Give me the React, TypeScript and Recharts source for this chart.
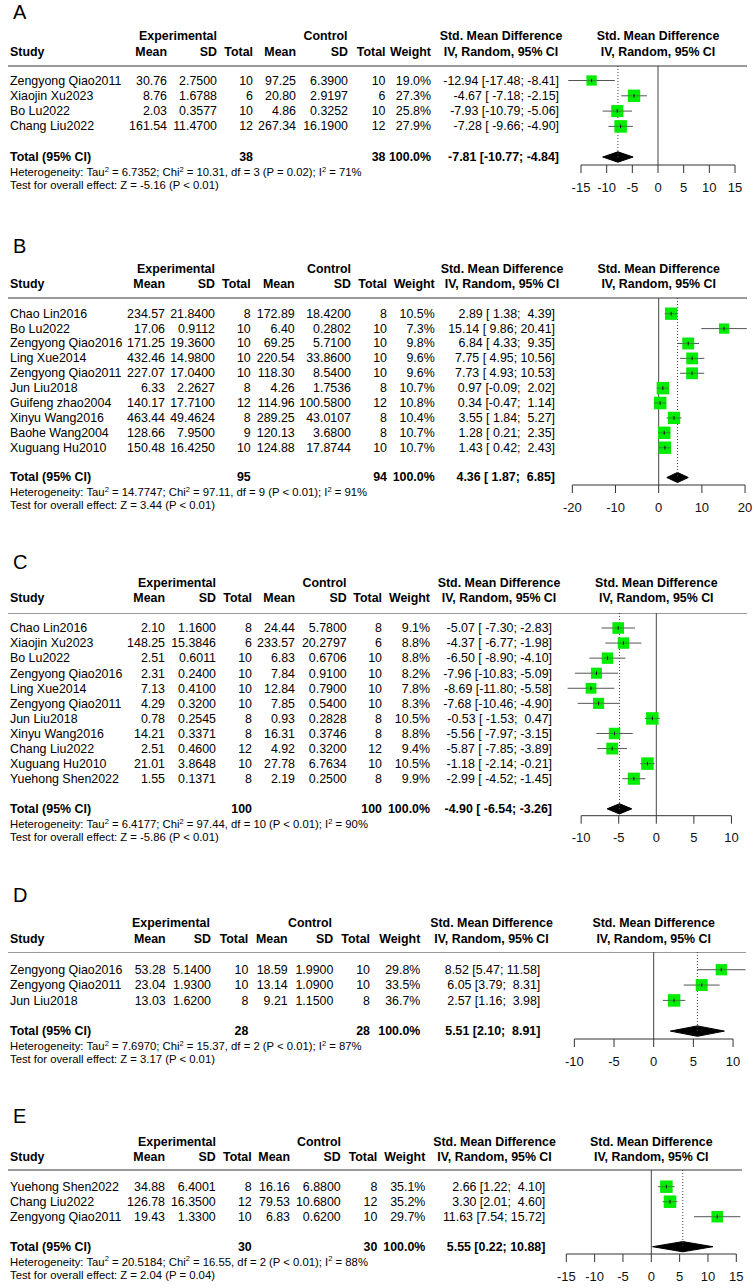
import React from 'react';
import {
  ComposedChart,
  Scatter,
  ErrorBar,
  Area,
  XAxis,
  YAxis,
  ReferenceLine,
} from 'recharts';

// one row per study: means/SDs/Ns for both arms, weight (%), SMD and its 95% CI
interface Row {
  study: string;
  me: number;
  sde: number;
  ne: number;
  mc: number;
  sdc: number;
  nc: number;
  w: number;
  smd: number;
  lo: number;
  hi: number;
}

interface Pooled {
  ne: number;
  nc: number;
  smd: number;
  lo: number;
  hi: number;
}

interface Het {
  tau2: string;
  chi2: string;
  df: number;
  p: string;
  i2: number;
  z: string;
  pz: string;
}

const rowsA: Row[] = [
  { study: 'Zengyong Qiao2011', me: 30.76, sde: 2.75, ne: 10, mc: 97.25, sdc: 6.39, nc: 10, w: 19.0, smd: -12.94, lo: -17.48, hi: -8.41 },
  { study: 'Xiaojin Xu2023', me: 8.76, sde: 1.6788, ne: 6, mc: 20.8, sdc: 2.9197, nc: 6, w: 27.3, smd: -4.67, lo: -7.18, hi: -2.15 },
  { study: 'Bo Lu2022', me: 2.03, sde: 0.3577, ne: 10, mc: 4.86, sdc: 0.3252, nc: 10, w: 25.8, smd: -7.93, lo: -10.79, hi: -5.06 },
  { study: 'Chang Liu2022', me: 161.54, sde: 11.47, ne: 12, mc: 267.34, sdc: 16.19, nc: 12, w: 27.9, smd: -7.28, lo: -9.66, hi: -4.9 },
];
const pooledA: Pooled = { ne: 38, nc: 38, smd: -7.81, lo: -10.77, hi: -4.84 };
const hetA: Het = { tau2: '6.7352', chi2: '10.31', df: 3, p: 'P = 0.02', i2: 71, z: '-5.16', pz: 'P < 0.01' };

const rowsB: Row[] = [
  { study: 'Chao Lin2016', me: 234.57, sde: 21.84, ne: 8, mc: 172.89, sdc: 18.42, nc: 8, w: 10.5, smd: 2.89, lo: 1.38, hi: 4.39 },
  { study: 'Bo Lu2022', me: 17.06, sde: 0.9112, ne: 10, mc: 6.4, sdc: 0.2802, nc: 10, w: 7.3, smd: 15.14, lo: 9.86, hi: 20.41 },
  { study: 'Zengyong Qiao2016', me: 171.25, sde: 19.36, ne: 10, mc: 69.25, sdc: 5.71, nc: 10, w: 9.8, smd: 6.84, lo: 4.33, hi: 9.35 },
  { study: 'Ling Xue2014', me: 432.46, sde: 14.98, ne: 10, mc: 220.54, sdc: 33.86, nc: 10, w: 9.6, smd: 7.75, lo: 4.95, hi: 10.56 },
  { study: 'Zengyong Qiao2011', me: 227.07, sde: 17.04, ne: 10, mc: 118.3, sdc: 8.54, nc: 10, w: 9.6, smd: 7.73, lo: 4.93, hi: 10.53 },
  { study: 'Jun Liu2018', me: 6.33, sde: 2.2627, ne: 8, mc: 4.26, sdc: 1.7536, nc: 8, w: 10.7, smd: 0.97, lo: -0.09, hi: 2.02 },
  { study: 'Guifeng zhao2004', me: 140.17, sde: 17.71, ne: 12, mc: 114.96, sdc: 100.58, nc: 12, w: 10.8, smd: 0.34, lo: -0.47, hi: 1.14 },
  { study: 'Xinyu Wang2016', me: 463.44, sde: 49.4624, ne: 8, mc: 289.25, sdc: 43.0107, nc: 8, w: 10.4, smd: 3.55, lo: 1.84, hi: 5.27 },
  { study: 'Baohe Wang2004', me: 128.66, sde: 7.95, ne: 9, mc: 120.13, sdc: 3.68, nc: 8, w: 10.7, smd: 1.28, lo: 0.21, hi: 2.35 },
  { study: 'Xuguang Hu2010', me: 150.48, sde: 16.425, ne: 10, mc: 124.88, sdc: 17.8744, nc: 10, w: 10.7, smd: 1.43, lo: 0.42, hi: 2.43 },
];
const pooledB: Pooled = { ne: 95, nc: 94, smd: 4.36, lo: 1.87, hi: 6.85 };
const hetB: Het = { tau2: '14.7747', chi2: '97.11', df: 9, p: 'P < 0.01', i2: 91, z: '3.44', pz: 'P < 0.01' };

const rowsC: Row[] = [
  { study: 'Chao Lin2016', me: 2.1, sde: 1.16, ne: 8, mc: 24.44, sdc: 5.78, nc: 8, w: 9.1, smd: -5.07, lo: -7.3, hi: -2.83 },
  { study: 'Xiaojin Xu2023', me: 148.25, sde: 15.3846, ne: 6, mc: 233.57, sdc: 20.2797, nc: 6, w: 8.8, smd: -4.37, lo: -6.77, hi: -1.98 },
  { study: 'Bo Lu2022', me: 2.51, sde: 0.6011, ne: 10, mc: 6.83, sdc: 0.6706, nc: 10, w: 8.8, smd: -6.5, lo: -8.9, hi: -4.1 },
  { study: 'Zengyong Qiao2016', me: 2.31, sde: 0.24, ne: 10, mc: 7.84, sdc: 0.91, nc: 10, w: 8.2, smd: -7.96, lo: -10.83, hi: -5.09 },
  { study: 'Ling Xue2014', me: 7.13, sde: 0.41, ne: 10, mc: 12.84, sdc: 0.79, nc: 10, w: 7.8, smd: -8.69, lo: -11.8, hi: -5.58 },
  { study: 'Zengyong Qiao2011', me: 4.29, sde: 0.32, ne: 10, mc: 7.85, sdc: 0.54, nc: 10, w: 8.3, smd: -7.68, lo: -10.46, hi: -4.9 },
  { study: 'Jun Liu2018', me: 0.78, sde: 0.2545, ne: 8, mc: 0.93, sdc: 0.2828, nc: 8, w: 10.5, smd: -0.53, lo: -1.53, hi: 0.47 },
  { study: 'Xinyu Wang2016', me: 14.21, sde: 0.3371, ne: 8, mc: 16.31, sdc: 0.3746, nc: 8, w: 8.8, smd: -5.56, lo: -7.97, hi: -3.15 },
  { study: 'Chang Liu2022', me: 2.51, sde: 0.46, ne: 12, mc: 4.92, sdc: 0.32, nc: 12, w: 9.4, smd: -5.87, lo: -7.85, hi: -3.89 },
  { study: 'Xuguang Hu2010', me: 21.01, sde: 3.8648, ne: 10, mc: 27.78, sdc: 6.7634, nc: 10, w: 10.5, smd: -1.18, lo: -2.14, hi: -0.21 },
  { study: 'Yuehong Shen2022', me: 1.55, sde: 0.1371, ne: 8, mc: 2.19, sdc: 0.25, nc: 8, w: 9.9, smd: -2.99, lo: -4.52, hi: -1.45 },
];
const pooledC: Pooled = { ne: 100, nc: 100, smd: -4.9, lo: -6.54, hi: -3.26 };
const hetC: Het = { tau2: '6.4177', chi2: '97.44', df: 10, p: 'P < 0.01', i2: 90, z: '-5.86', pz: 'P < 0.01' };

const rowsD: Row[] = [
  { study: 'Zengyong Qiao2016', me: 53.28, sde: 5.14, ne: 10, mc: 18.59, sdc: 1.99, nc: 10, w: 29.8, smd: 8.52, lo: 5.47, hi: 11.58 },
  { study: 'Zengyong Qiao2011', me: 23.04, sde: 1.93, ne: 10, mc: 13.14, sdc: 1.09, nc: 10, w: 33.5, smd: 6.05, lo: 3.79, hi: 8.31 },
  { study: 'Jun Liu2018', me: 13.03, sde: 1.62, ne: 8, mc: 9.21, sdc: 1.15, nc: 8, w: 36.7, smd: 2.57, lo: 1.16, hi: 3.98 },
];
const pooledD: Pooled = { ne: 28, nc: 28, smd: 5.51, lo: 2.1, hi: 8.91 };
const hetD: Het = { tau2: '7.6970', chi2: '15.37', df: 2, p: 'P < 0.01', i2: 87, z: '3.17', pz: 'P < 0.01' };

const rowsE: Row[] = [
  { study: 'Yuehong Shen2022', me: 34.88, sde: 6.4001, ne: 8, mc: 16.16, sdc: 6.88, nc: 8, w: 35.1, smd: 2.66, lo: 1.22, hi: 4.1 },
  { study: 'Chang Liu2022', me: 126.78, sde: 16.35, ne: 12, mc: 79.53, sdc: 10.68, nc: 12, w: 35.2, smd: 3.3, lo: 2.01, hi: 4.6 },
  { study: 'Zengyong Qiao2011', me: 19.43, sde: 1.33, ne: 10, mc: 6.83, sdc: 0.62, nc: 10, w: 29.7, smd: 11.63, lo: 7.54, hi: 15.72 },
];
const pooledE: Pooled = { ne: 30, nc: 30, smd: 5.55, lo: 0.22, hi: 10.88 };
const hetE: Het = { tau2: '20.5184', chi2: '16.55', df: 2, p: 'P < 0.01', i2: 88, z: '2.04', pz: 'P = 0.04' };

const ticksA = [-15, -10, -5, 0, 5, 10, 15];
const ticksB = [-20, -10, 0, 10, 20];
const ticksC = [-10, -5, 0, 5, 10];
const ticksD = [-10, -5, 0, 5, 10];
const ticksE = [-15, -10, -5, 0, 5, 10, 15];

interface Layout {
  letter: string;
  letterY: number;
  h1: number;
  h2: number;
  rule: number;
  ruleEnd: number;
  row0: number;
  step: number;
  axisY: number;
  cols: number[]; // right edges: exp mean, sd, total, ctl mean, sd, total, weight, CI
  expC: number;
  ctlC: number;
  smdC: number;
  zero: number;
  ppu: number;
}

const PAGE_W = 754;
const PAGE_H = 1288;
const FONT = '"Liberation Sans", Arial, sans-serif';
const GREEN = '#00ec00';

const layA: Layout = {
  letter: 'A', letterY: 12, h1: 36, h2: 52, rule: 66, ruleEnd: 747, row0: 80.5, step: 15.3, axisY: 165,
  cols: [167, 217, 253, 296, 348, 385.5, 431, 559], expC: 178, ctlC: 325.5, smdC: 501, zero: 658, ppu: 154 / 30,
};
const layB: Layout = {
  letter: 'B', letterY: 246, h1: 269, h2: 284, rule: 298, ruleEnd: 747, row0: 313.7, step: 14.89, axisY: 485,
  cols: [165, 215, 250.7, 294.7, 351, 387, 434.7, 555], expC: 176, ctlC: 329, smdC: 502, zero: 658.7, ppu: 172.7 / 40,
};
const layC: Layout = {
  letter: 'C', letterY: 561.5, h1: 583.3, h2: 598.3, rule: 613.3, ruleEnd: 747, row0: 628.3, step: 15.07, axisY: 816,
  cols: [165, 216, 252, 295, 346.7, 382, 430, 552], expC: 177, ctlC: 324.5, smdC: 499, zero: 656.3, ppu: 150.3 / 20,
};
const layD: Layout = {
  letter: 'D', letterY: 895, h1: 923.3, h2: 939, rule: 952.3, ruleEnd: 746, row0: 970, step: 15.35, axisY: 1039.3,
  cols: [165.7, 211, 248.3, 287.7, 333.3, 370, 420.3, 540.3], expC: 171, ctlC: 310, smdC: 491.5, zero: 653.7, ppu: 158.7 / 20,
};
const layE: Layout = {
  letter: 'E', letterY: 1116, h1: 1141.7, h2: 1156.7, rule: 1170, ruleEnd: 742, row0: 1186.7, step: 15, axisY: 1254,
  cols: [165, 215.7, 251.7, 290, 340.7, 377.3, 425.3, 545.3], expC: 177, ctlC: 319, smdC: 494.5, zero: 651.3, ppu: 170 / 30,
};

function Txt({
  x,
  y,
  anchor = 'start',
  bold = false,
  size = 12.4,
  children,
}: {
  x: number;
  y: number;
  anchor?: 'start' | 'middle' | 'end';
  bold?: boolean;
  size?: number;
  children: React.ReactNode;
}) {
  const style: React.CSSProperties = {
    position: 'absolute',
    top: y,
    lineHeight: 1,
    fontSize: size,
    fontFamily: FONT,
    fontWeight: bold ? 700 : 400,
    whiteSpace: 'pre',
    color: '#000',
    transform: 'translateY(-50%)',
  };
  if (anchor === 'start') style.left = x;
  else if (anchor === 'end') style.right = PAGE_W - x;
  else {
    style.left = x;
    style.transform = 'translate(-50%, -50%)';
  }
  return <div style={style}>{children}</div>;
}

const Sup = () => (
  <span style={{ fontSize: 7.5, position: 'relative', top: -4.5 }}>2</span>
);

// meta-style CI strings, padded so the brackets roughly line up
function ciStrings(rows: Row[], pooled: Pooled) {
  const all = [...rows, pooled];
  const f = (v: number) => v.toFixed(2);
  const wE = Math.max(...all.map((r) => f(r.smd).length));
  const wL = Math.max(...all.map((r) => f(r.lo).length));
  const wU = Math.max(...all.map((r) => f(r.hi).length));
  return all.map(
    (r) => `${f(r.smd).padStart(wE)} [${f(r.lo).padStart(wL)}; ${f(r.hi).padStart(wU)}]`
  );
}

function SquareShape(props: any) {
  const { cx, cy, payload } = props;
  if (cx == null || cy == null) return null;
  const s = payload.size;
  return (
    <g>
      <rect x={cx - s / 2} y={cy - s / 2} width={s} height={s} fill={GREEN} />
      <line x1={cx - s / 2} x2={cx + s / 2} y1={cy} y2={cy} stroke="#555" strokeWidth={0.6} />
      <line x1={cx} x2={cx} y1={cy - 1.8} y2={cy + 1.8} stroke="#000" strokeWidth={0.9} />
    </g>
  );
}

function Forest({ rows, pooled, lay, ticks }: { rows: Row[]; pooled: Pooled; lay: Layout; ticks: number[] }) {
  const left = 545;
  const width = PAGE_W - left;
  const ml = 5;
  const mr = 5;
  const xDomain = [(left + ml - lay.zero) / lay.ppu, (left + width - mr - lay.zero) / lay.ppu];
  const yLo = (lay.rule - lay.row0) / lay.step;
  const yHi = (lay.axisY - lay.row0) / lay.step;
  const axisH = 32;
  const height = lay.axisY - lay.rule + axisH;
  const maxW = Math.max(...rows.map((r) => r.w));
  const points = rows.map((r, i) => ({
    x: r.smd,
    y: i,
    err: [r.smd - r.lo, r.hi - r.smd],
    size: 12.5 * Math.sqrt(r.w / maxW),
  }));
  const t = rows.length + 1;
  const hh = 0.34;
  const diamond = [
    { x: pooled.lo, band: [t, t] },
    { x: pooled.smd, band: [t - hh, t + hh] },
    { x: pooled.hi, band: [t, t] },
  ];

  return (
    <div style={{ position: 'absolute', left, top: lay.rule }}>
      <ComposedChart
        width={width}
        height={height}
        data={diamond}
        margin={{ top: 0, right: mr, bottom: 0, left: ml }}
      >
        <XAxis
          type="number"
          dataKey="x"
          domain={xDomain}
          allowDataOverflow
          ticks={ticks}
          interval={0}
          height={axisH}
          axisLine={false}
          tickSize={8}
          tickMargin={9.5}
          tickLine={{ stroke: '#333' }}
          tick={{ fontSize: 13, fill: '#111', fontFamily: FONT }}
        />
        <YAxis type="number" dataKey="y" domain={[yLo, yHi]} allowDataOverflow reversed hide width={0} />
        <ReferenceLine x={0} stroke="#444" strokeWidth={1} />
        <ReferenceLine
          segment={[{ x: pooled.smd, y: yLo }, { x: pooled.smd, y: t }]}
          stroke="#444"
          strokeDasharray="1 2"
        />
        <ReferenceLine
          segment={[{ x: ticks[0], y: yHi }, { x: ticks[ticks.length - 1], y: yHi }]}
          stroke="#333"
          strokeWidth={1}
        />
        <Area
          dataKey="band"
          type="linear"
          stroke="#000"
          fill="#000"
          fillOpacity={1}
          dot={false}
          activeDot={false}
          isAnimationActive={false}
        />
        <Scatter data={points} dataKey="y" shape={SquareShape} isAnimationActive={false}>
          <ErrorBar dataKey="err" direction="x" width={0} stroke="#555" strokeWidth={1} />
        </Scatter>
      </ComposedChart>
    </div>
  );
}

function Panel({ rows, pooled, het, lay, ticks }: { rows: Row[]; pooled: Pooled; het: Het; lay: Layout; ticks: number[] }) {
  const c = lay.cols;
  const ci = ciStrings(rows, pooled);
  const totY = lay.row0 + (rows.length + 1) * lay.step;
  return (
    <>
      <Txt x={13} y={lay.letterY} size={20}>
        {lay.letter}
      </Txt>

      <Txt x={lay.expC} y={lay.h1} anchor="middle" bold>Experimental</Txt>
      <Txt x={lay.ctlC} y={lay.h1} anchor="middle" bold>Control</Txt>
      <Txt x={lay.smdC} y={lay.h1} anchor="middle" bold>Std. Mean Difference</Txt>
      <Txt x={lay.zero} y={lay.h1} anchor="middle" bold>Std. Mean Difference</Txt>

      <Txt x={10} y={lay.h2} bold>Study</Txt>
      <Txt x={c[0]} y={lay.h2} anchor="end" bold>Mean</Txt>
      <Txt x={c[1]} y={lay.h2} anchor="end" bold>SD</Txt>
      <Txt x={c[2]} y={lay.h2} anchor="end" bold>Total</Txt>
      <Txt x={c[3]} y={lay.h2} anchor="end" bold>Mean</Txt>
      <Txt x={c[4]} y={lay.h2} anchor="end" bold>SD</Txt>
      <Txt x={c[5]} y={lay.h2} anchor="end" bold>Total</Txt>
      <Txt x={c[6]} y={lay.h2} anchor="end" bold>Weight</Txt>
      <Txt x={lay.smdC} y={lay.h2} anchor="middle" bold>IV, Random, 95% CI</Txt>
      <Txt x={lay.zero} y={lay.h2} anchor="middle" bold>IV, Random, 95% CI</Txt>

      <div
        style={{
          position: 'absolute',
          left: 8,
          width: lay.ruleEnd - 8,
          top: lay.rule - 0.75,
          height: 1.5,
          background: '#9a9a9a',
        }}
      />

      {rows.map((r, i) => {
        const y = lay.row0 + i * lay.step;
        return (
          <React.Fragment key={r.study}>
            <Txt x={10} y={y}>{r.study}</Txt>
            <Txt x={c[0]} y={y} anchor="end">{r.me.toFixed(2)}</Txt>
            <Txt x={c[1]} y={y} anchor="end">{r.sde.toFixed(4)}</Txt>
            <Txt x={c[2]} y={y} anchor="end">{String(r.ne)}</Txt>
            <Txt x={c[3]} y={y} anchor="end">{r.mc.toFixed(2)}</Txt>
            <Txt x={c[4]} y={y} anchor="end">{r.sdc.toFixed(4)}</Txt>
            <Txt x={c[5]} y={y} anchor="end">{String(r.nc)}</Txt>
            <Txt x={c[6]} y={y} anchor="end">{`${r.w.toFixed(1)}%`}</Txt>
            <Txt x={c[7]} y={y} anchor="end">{ci[i]}</Txt>
          </React.Fragment>
        );
      })}

      <Txt x={10} y={totY} bold>Total (95% CI)</Txt>
      <Txt x={c[2]} y={totY} anchor="end" bold>{String(pooled.ne)}</Txt>
      <Txt x={c[5]} y={totY} anchor="end" bold>{String(pooled.nc)}</Txt>
      <Txt x={c[6]} y={totY} anchor="end" bold>100.0%</Txt>
      <Txt x={c[7]} y={totY} anchor="end" bold>{ci[rows.length]}</Txt>

      <Txt x={10} y={totY + 16} size={11.3}>
        Heterogeneity: Tau<Sup /> = {het.tau2}; Chi<Sup /> = {het.chi2}, df = {het.df} ({het.p}); I<Sup /> = {het.i2}%
      </Txt>
      <Txt x={10} y={totY + 29} size={11.3}>
        Test for overall effect: Z = {het.z} ({het.pz})
      </Txt>

      <Forest rows={rows} pooled={pooled} lay={lay} ticks={ticks} />
    </>
  );
}

export default function App() {
  return (
    <div
      style={{
        position: 'absolute',
        left: 0,
        top: 0,
        width: PAGE_W,
        height: PAGE_H,
        background: '#fff',
        overflow: 'hidden',
        fontFamily: FONT,
      }}
    >
      <Panel rows={rowsA} pooled={pooledA} het={hetA} lay={layA} ticks={ticksA} />
      <Panel rows={rowsB} pooled={pooledB} het={hetB} lay={layB} ticks={ticksB} />
      <Panel rows={rowsC} pooled={pooledC} het={hetC} lay={layC} ticks={ticksC} />
      <Panel rows={rowsD} pooled={pooledD} het={hetD} lay={layD} ticks={ticksD} />
      <Panel rows={rowsE} pooled={pooledE} het={hetE} lay={layE} ticks={ticksE} />
    </div>
  );
}
